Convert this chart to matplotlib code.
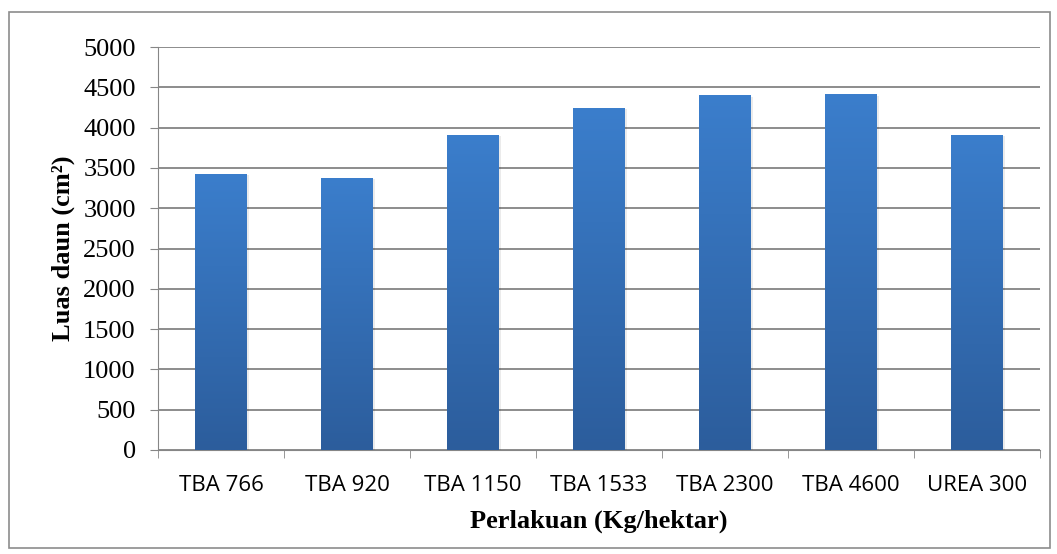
import matplotlib.pyplot as plt
import numpy as np
from matplotlib.patches import Rectangle

# treatment groups and measured leaf area
perlakuan = ["TBA 766", "TBA 920", "TBA 1150", "TBA 1533", "TBA 2300", "TBA 4600", "UREA 300"]
luas_daun = [3425, 3380, 3910, 4240, 4400, 4412, 3912]
yticks = list(range(0, 5001, 500))


def main():
    fig = plt.figure(figsize=(10.57, 5.54), dpi=100)
    ax = fig.add_axes([158 / 1057, 1 - 450 / 554, (1040 - 158) / 1057, (450 - 47) / 554])

    x = np.arange(len(perlakuan))
    bars = ax.bar(x, luas_daun, width=0.41, color="none", zorder=3)

    # vertical gradient fill, lighter at the top
    grad = np.linspace(0, 1, 256).reshape(-1, 1)
    cmap = plt.matplotlib.colors.LinearSegmentedColormap.from_list(
        "blu", ["#2c5d9c", "#3b7ecc"])
    for b in bars:
        bx, by = b.get_x(), b.get_y()
        w, h = b.get_width(), b.get_height()
        # soft shadow to the right
        ax.add_patch(Rectangle((bx + 0.02, by), w, h - 15, color="#000000",
                               alpha=0.08, zorder=2, lw=0))
        im = ax.imshow(grad, extent=[bx, bx + w, by, by + h], origin="lower",
                       cmap=cmap, aspect="auto", zorder=3)
        im.set_clip_path(b)

    ax.set_xlim(-0.5, len(perlakuan) - 0.5)
    ax.set_ylim(0, 5000)
    ax.set_yticks(yticks)
    ax.set_yticklabels([str(v) for v in yticks], fontfamily="Liberation Serif", fontsize=19)
    ax.set_xticks(x)
    ax.set_xticklabels(perlakuan, fontfamily="Open Sans", fontsize=16)
    ax.set_xticks(np.arange(len(perlakuan) + 1) - 0.5, minor=True)
    ax.tick_params(axis="x", which="major", length=0, pad=18)
    ax.tick_params(axis="x", which="minor", length=6, color="#868686")
    ax.tick_params(axis="y", length=6, color="#868686", pad=10)

    ax.grid(axis="y", color="#8c8c8c", lw=1.4, zorder=1)
    for s in ["top", "right"]:
        ax.spines[s].set_visible(False)
    ax.spines["left"].set_color("#868686")
    ax.spines["bottom"].set_color("#868686")

    ax.set_ylabel("Luas daun (cm²)", fontfamily="Liberation Serif",
                  fontsize=19, fontweight="bold")
    ax.yaxis.set_label_coords(-0.094, 0.5)
    ax.set_xlabel("Perlakuan (Kg/hektar)", fontfamily="Liberation Serif",
                  fontsize=19, fontweight="bold", labelpad=10)

    # outer chart border
    fig.add_artist(Rectangle((9 / 1057, 1 - 548 / 554), (1050 - 9) / 1057, (548 - 12) / 554,
                             transform=fig.transFigure, fill=False, ec="#8c8c8c", lw=1.2))

    fig.savefig("out.png", dpi=100)


if '__main__' == __name__:
    main()
